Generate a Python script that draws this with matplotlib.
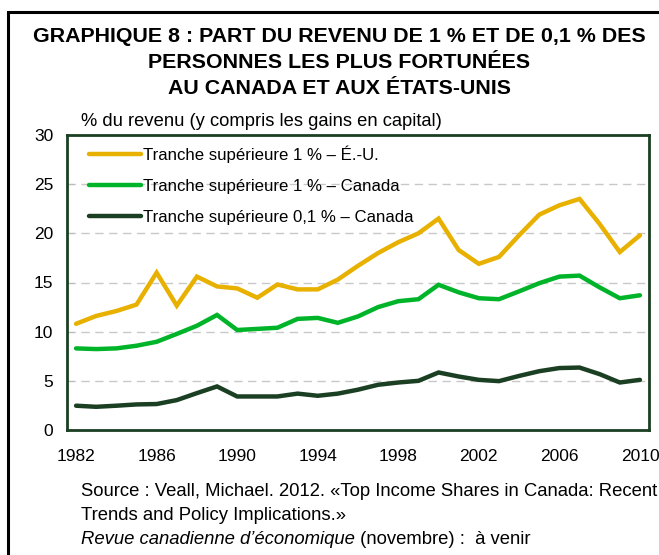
import numpy as np
import matplotlib
matplotlib.use("Agg")
import matplotlib.pyplot as plt
from matplotlib.patches import Rectangle

plt.rcParams["font.family"] = ["Liberation Sans", "DejaVu Sans"]

# data
years = list(range(1982, 2011))
us_top1 = [10.8, 11.6, 12.1, 12.75, 16.0, 12.65, 15.6, 14.6, 14.4, 13.45,
           14.8, 14.3, 14.3, 15.3, 16.7, 18.0, 19.1, 20.0, 21.5, 18.3,
           16.9, 17.6, 19.8, 21.9, 22.85, 23.5, 20.95, 18.1, 19.8]
ca_top1 = [8.3, 8.23, 8.3, 8.57, 8.97, 9.77, 10.6, 11.7, 10.17, 10.28,
           10.4, 11.3, 11.4, 10.9, 11.55, 12.5, 13.1, 13.3, 14.77, 14.0,
           13.4, 13.3, 14.1, 14.93, 15.6, 15.7, 14.5, 13.4, 13.7]
ca_top01 = [2.47, 2.36, 2.47, 2.6, 2.64, 3.04, 3.75, 4.43, 3.41, 3.41,
            3.41, 3.7, 3.48, 3.7, 4.1, 4.6, 4.83, 5.0, 5.85, 5.44,
            5.1, 4.97, 5.5, 5.98, 6.3, 6.35, 5.68, 4.83, 5.1]
labels = ["Tranche supérieure 1 % – É.-U.",
          "Tranche supérieure 1 % – Canada",
          "Tranche supérieure 0,1 % – Canada"]
colors = ["#E8B100", "#00B42A", "#1B3F22"]
xticks = [1982, 1986, 1990, 1994, 1998, 2002, 2006, 2010]
title_lines = ["GRAPHIQUE 8 : PART DU REVENU DE 1 % ET DE 0,1 % DES",
               "PERSONNES LES PLUS FORTUNÉES",
               "AU CANADA ET AUX ÉTATS-UNIS"]

W, H = 659, 555
fig = plt.figure(figsize=(W / 100, H / 100), dpi=100)

# outer box
fig.patches.append(Rectangle((8 / W, -0.1), 1.1, 1 - 12 / H + 0.1,
                             transform=fig.transFigure, fill=False,
                             edgecolor="black", linewidth=2.2))

ax = fig.add_axes([67 / W, 1 - 430 / H, (649 - 67) / W, (430 - 135) / H])

for vals, lab, col in zip([us_top1, ca_top1, ca_top01], labels, colors):
    ax.plot(years, vals, color=col, linewidth=3.2, label=lab,
            solid_capstyle="round", solid_joinstyle="miter")

ax.set_xlim(1981.55, 2010.45)
ax.set_ylim(0, 30)
ax.set_yticks(range(0, 31, 5))
ax.set_xticks(xticks)
for y in range(5, 30, 5):
    ax.axhline(y, color="#c8c8c8", linestyle=(0, (6, 4)), linewidth=1, zorder=0)
ax.tick_params(axis="x", length=0, pad=14, labelsize=12.5)
ax.tick_params(axis="y", length=5, pad=10, labelsize=12.5, direction="in",
               color="#bbbbbb")
for s in ax.spines.values():
    s.set_edgecolor("#1B3F22")
    s.set_linewidth(2)

leg = ax.legend(loc="upper left", frameon=False, fontsize=12.1,
                handlelength=3.1, handletextpad=0.12, labelspacing=0.95,
                borderaxespad=0.2, bbox_to_anchor=(0.021, 1.0))

fig.text(81 / W, 1 - 121 / H, "% du revenu (y compris les gains en capital)",
         fontsize=13.2, va="center", ha="left")

# title, one text per line
for i, line in enumerate(title_lines):
    fig.text(339 / W, 1 - (37 + 26 * i) / H, line, ha="center", va="center",
             fontsize=15.4, fontweight="bold")

fig.text(81 / W, 1 - 491 / H,
         "Source : Veall, Michael. 2012. «Top Income Shares in Canada: Recent",
         fontsize=13.3, va="center")
fig.text(81 / W, 1 - 515 / H, "Trends and Policy Implications.»",
         fontsize=13.3, va="center")
t1 = fig.text(81 / W, 1 - 539 / H, "Revue canadienne d’économique",
              fontsize=13.3, va="center", style="italic")
ax.annotate(" (novembre) :  à venir", xy=(1, 0.5), xycoords=t1,
            fontsize=13.3, va="center", ha="left", annotation_clip=False)

fig.savefig("out.png", dpi=100)
